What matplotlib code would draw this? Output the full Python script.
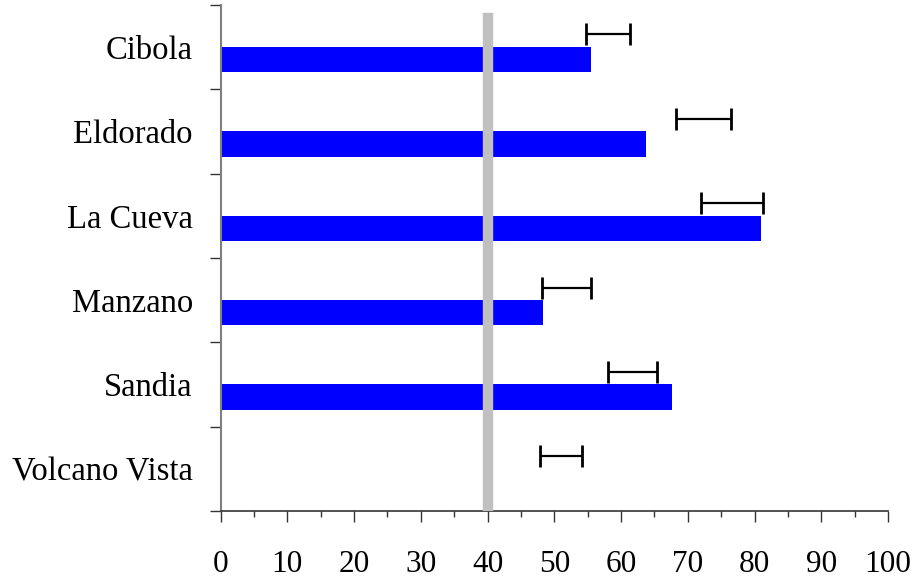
import matplotlib
matplotlib.use("Agg")
import matplotlib.pyplot as plt
import numpy as np

schools = ["Cibola", "Eldorado", "La Cueva", "Manzano", "Sandia", "Volcano Vista"]
scores = [55.5, 63.7, 81.0, 48.3, 67.7, np.nan]
ci_low = [54.8, 68.3, 72.0, 48.2, 58.0, 47.9]
ci_high = [61.4, 76.5, 81.3, 55.5, 65.4, 54.2]
reference = 40
xticks = list(range(0, 101, 10))

plt.rcParams['font.family'] = ['Liberation Serif', 'DejaVu Serif']

fig = plt.figure(figsize=(9.17, 5.85), dpi=100)
ax = fig.add_axes([0.2406, 0.1265, 0.7278, 0.8650])

y = np.arange(len(schools))
bh = 0.3
ax.barh(y + bh / 2, scores, height=bh, color="#0000ff", zorder=2)

lo = np.array(ci_low)
hi = np.array(ci_high)
mid = (lo + hi) / 2
ax.errorbar(mid, y - bh / 2, xerr=(hi - lo) / 2, fmt="none", ecolor="black",
            elinewidth=1.6, capsize=8, capthick=2.0, zorder=4)

ax.axvline(reference, ymin=0, ymax=0.975, color="#c0c0c0", linewidth=7.5, zorder=3)

ax.set_xlim(0, 100)
ax.set_ylim(len(schools) - 0.5, -0.5)

ax.set_xticks(xticks)
ax.set_xticklabels([str(v) for v in xticks])
ax.set_xticks(np.arange(5, 100, 10), minor=True)
ax.tick_params(axis="x", which="major", direction="out", length=8, width=1,
               labelsize=22.5, pad=20, color="#333333")
ax.tick_params(axis="x", which="minor", direction="out", length=4.5, width=1,
               color="#333333")

ax.set_yticks(np.arange(-0.5, len(schools), 1.0))
ax.set_yticklabels([])
ax.set_yticks(y, minor=True)
ax.set_yticklabels(schools, minor=True)
ax.tick_params(axis="y", which="major", direction="out", length=8, width=1,
               color="#333333")
ax.tick_params(axis="y", which="minor", length=0, labelsize=23.5, pad=20)

for s in ["top", "right"]:
    ax.spines[s].set_visible(False)
ax.spines["left"].set_color("#7f7f7f")
ax.spines["left"].set_linewidth(1.5)
ax.spines["bottom"].set_color("#333333")
ax.spines["bottom"].set_linewidth(1.2)

fig.savefig("out.png", dpi=100)
